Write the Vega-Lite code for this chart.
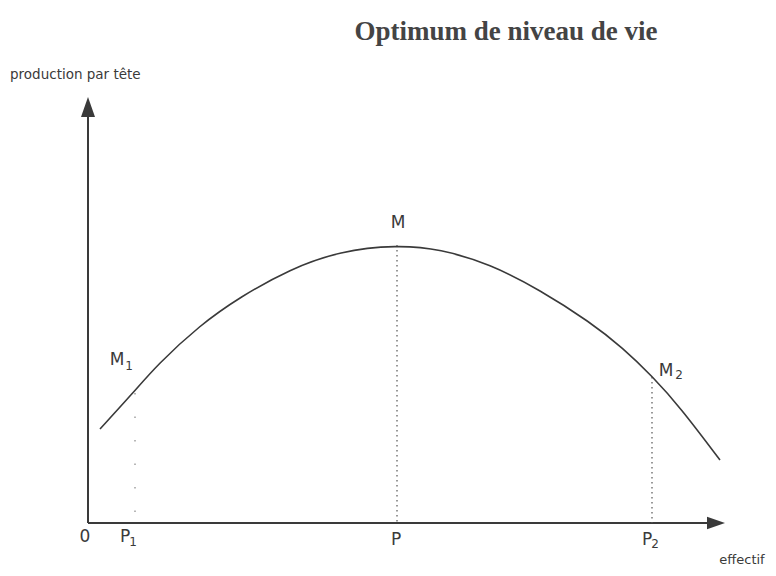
{
  "$schema": "https://vega.github.io/schema/vega-lite/v6.json",
  "width": 776,
  "height": 576,
  "padding": 0,
  "autosize": {"type": "none"},
  "background": "#ffffff",
  "config": {"view": {"stroke": null}},
  "datasets": {
    "curve": [
      {"effectif": 12, "production": 94},
      {"effectif": 45, "production": 130},
      {"effectif": 69, "production": 158},
      {"effectif": 112, "production": 198},
      {"effectif": 152, "production": 226},
      {"effectif": 202, "production": 254},
      {"effectif": 252, "production": 272},
      {"effectif": 309, "production": 278},
      {"effectif": 352, "production": 274},
      {"effectif": 402, "production": 259},
      {"effectif": 452, "production": 233},
      {"effectif": 502, "production": 201},
      {"effectif": 535, "production": 175},
      {"effectif": 564, "production": 147},
      {"effectif": 592, "production": 116},
      {"effectif": 632, "production": 63}
    ],
    "axes": [
      {"x": 0, "y": 0, "x2": 0, "y2": 416},
      {"x": 0, "y": 0, "x2": 628, "y2": 0}
    ],
    "arrows": [
      {"x": 0, "y": 416, "dir": "up"},
      {"x": 628, "y": 0, "dir": "right"}
    ],
    "guides": [
      {"x": 309, "y": 278, "y2": 0, "faint": "no"},
      {"x": 564, "y": 146, "y2": 0, "faint": "no"},
      {"x": 47, "y": 130, "y2": 0, "faint": "yes"}
    ],
    "letters": [
      {"text": "M", "x": 310, "y": 300},
      {"text": "M", "x": 29, "y": 163},
      {"text": "M", "x": 578, "y": 152},
      {"text": "0", "x": -3, "y": -14},
      {"text": "P", "x": 37, "y": -14},
      {"text": "P", "x": 308, "y": -17},
      {"text": "P", "x": 559, "y": -17}
    ],
    "subs": [
      {"text": "1", "x": 41, "y": 157},
      {"text": "2", "x": 591, "y": 148},
      {"text": "1", "x": 45, "y": -19},
      {"text": "2", "x": 567, "y": -21}
    ]
  },
  "layer": [
    {
      "data": {"name": "axes"},
      "mark": {"type": "rule", "color": "#3a3a3a", "strokeWidth": 2},
      "encoding": {
        "x": {"field": "x", "type": "quantitative", "scale": {"domain": [-88, 688], "nice": false, "zero": false}, "axis": null},
        "y": {"field": "y", "type": "quantitative", "scale": {"domain": [-53, 523], "nice": false, "zero": false}, "axis": null},
        "x2": {"field": "x2"},
        "y2": {"field": "y2"}
      }
    },
    {
      "data": {"name": "arrows"},
      "transform": [{"filter": "datum.dir === 'up'"}],
      "mark": {"type": "point", "filled": true, "color": "#3a3a3a", "opacity": 1, "size": 400, "shape": "M0,-1L0.7,1L-0.7,1Z"},
      "encoding": {
        "x": {"field": "x", "type": "quantitative"},
        "y": {"field": "y", "type": "quantitative"}
      }
    },
    {
      "data": {"name": "arrows"},
      "transform": [{"filter": "datum.dir === 'right'"}],
      "mark": {"type": "point", "filled": true, "color": "#3a3a3a", "opacity": 1, "size": 324, "shape": "M1,0L-1,0.7L-1,-0.7Z"},
      "encoding": {
        "x": {"field": "x", "type": "quantitative"},
        "y": {"field": "y", "type": "quantitative"}
      }
    },
    {
      "data": {"name": "guides"},
      "transform": [{"filter": "datum.faint === 'no'"}],
      "mark": {"type": "rule", "color": "#555555", "strokeWidth": 1.2, "strokeDash": [1.5, 3.5]},
      "encoding": {
        "x": {"field": "x", "type": "quantitative"},
        "y": {"field": "y", "type": "quantitative"},
        "y2": {"field": "y2"}
      }
    },
    {
      "data": {"name": "guides"},
      "transform": [{"filter": "datum.faint === 'yes'"}],
      "mark": {"type": "rule", "color": "#888888", "strokeWidth": 1.2, "strokeDash": [1.5, 22]},
      "encoding": {
        "x": {"field": "x", "type": "quantitative"},
        "y": {"field": "y", "type": "quantitative"},
        "y2": {"field": "y2"}
      }
    },
    {
      "data": {"name": "curve"},
      "mark": {"type": "line", "color": "#3a3a3a", "strokeWidth": 1.6, "interpolate": "basis"},
      "encoding": {
        "x": {"field": "effectif", "type": "quantitative"},
        "y": {"field": "production", "type": "quantitative"}
      }
    },
    {
      "data": {"name": "letters"},
      "mark": {"type": "text", "font": "DejaVu Sans", "fontSize": 17, "color": "#3a3a3a", "align": "center", "baseline": "middle"},
      "encoding": {
        "x": {"field": "x", "type": "quantitative"},
        "y": {"field": "y", "type": "quantitative"},
        "text": {"field": "text"}
      }
    },
    {
      "data": {"name": "subs"},
      "mark": {"type": "text", "font": "DejaVu Sans", "fontSize": 12, "color": "#3a3a3a", "align": "center", "baseline": "middle"},
      "encoding": {
        "x": {"field": "x", "type": "quantitative"},
        "y": {"field": "y", "type": "quantitative"},
        "text": {"field": "text"}
      }
    },
    {
      "data": {"values": [{"text": "production par tête", "x": -78, "y": 448}]},
      "mark": {"type": "text", "font": "DejaVu Sans", "fontSize": 13.5, "color": "#3a3a3a", "align": "left", "baseline": "middle"},
      "encoding": {
        "x": {"field": "x", "type": "quantitative"},
        "y": {"field": "y", "type": "quantitative"},
        "text": {"field": "text"}
      }
    },
    {
      "data": {"values": [{"text": "effectif", "x": 654, "y": -37}]},
      "mark": {"type": "text", "font": "DejaVu Sans", "fontSize": 13, "color": "#3a3a3a", "align": "center", "baseline": "middle"},
      "encoding": {
        "x": {"field": "x", "type": "quantitative"},
        "y": {"field": "y", "type": "quantitative"},
        "text": {"field": "text"}
      }
    },
    {
      "data": {"values": [{"text": "Optimum de niveau de vie", "x": 418, "y": 491}]},
      "mark": {"type": "text", "font": "Liberation Serif", "fontWeight": "bold", "fontSize": 27, "color": "#444444", "align": "center", "baseline": "middle"},
      "encoding": {
        "x": {"field": "x", "type": "quantitative"},
        "y": {"field": "y", "type": "quantitative"},
        "text": {"field": "text"}
      }
    }
  ]
}
